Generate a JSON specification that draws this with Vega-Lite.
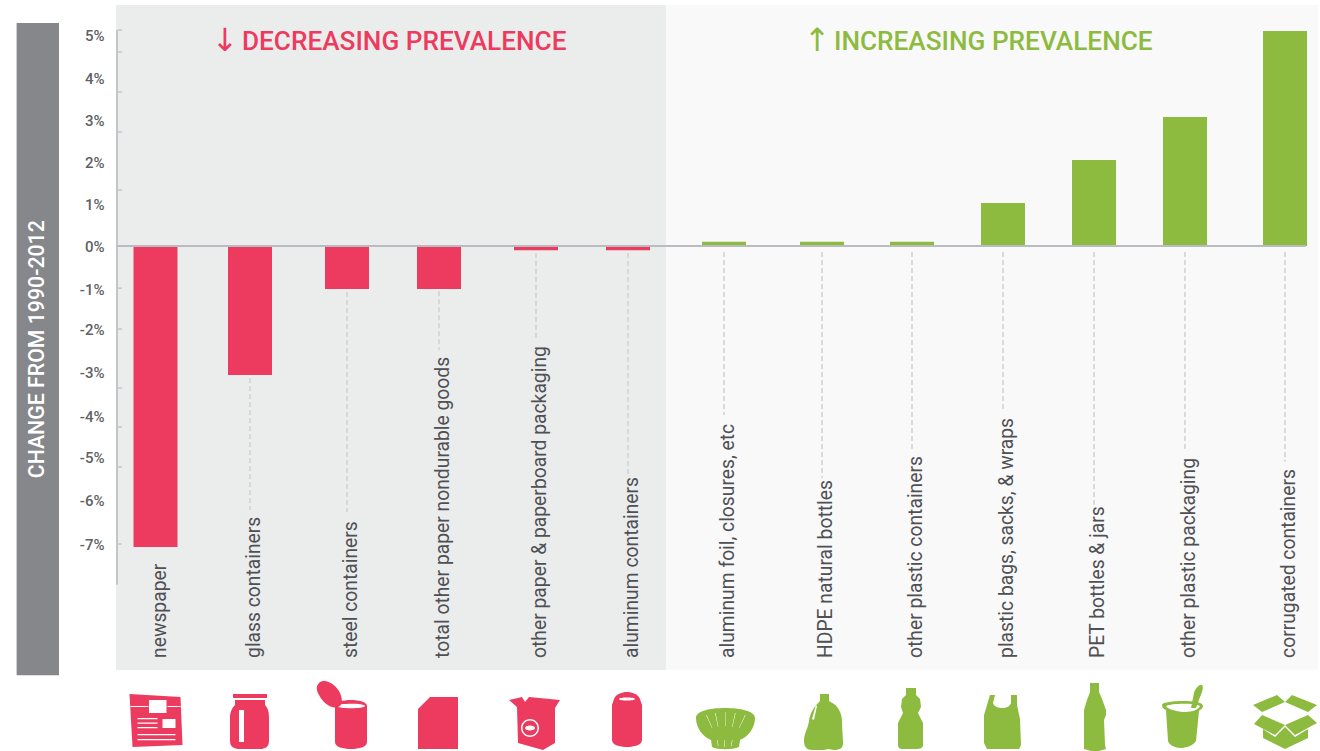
{
"$schema":"https://vega.github.io/schema/vega-lite/v6.json",
"width":1320,"height":751,"autosize":{"type":"none"},"padding":0,"background":"#ffffff",
"config":{"view":{"stroke":null}},
"datasets":{
"items":[
{"name":"newspaper","rank":1,"value":-7,"direction":"decreasing"},
{"name":"glass containers","rank":2,"value":-3,"direction":"decreasing","leadTop":-3.07,"leadEnd":-6.14},
{"name":"steel containers","rank":3,"value":-1,"direction":"decreasing","leadTop":-1.07,"leadEnd":-6.19},
{"name":"total other paper nondurable goods","rank":4,"value":-1,"direction":"decreasing","leadTop":-1.05,"leadEnd":-2.42},
{"name":"other paper & paperboard packaging","rank":5,"value":-0.1,"direction":"decreasing","leadTop":-0.16,"leadEnd":-2.14},
{"name":"aluminum containers","rank":6,"value":-0.1,"direction":"decreasing","leadTop":-0.16,"leadEnd":-5.33},
{"name":"aluminum foil, closures, etc","rank":7,"value":0.1,"direction":"increasing","leadTop":-0.14,"leadEnd":-3.93},
{"name":"HDPE natural bottles","rank":8,"value":0.1,"direction":"increasing","leadTop":-0.14,"leadEnd":-5.4},
{"name":"other plastic containers","rank":9,"value":0.1,"direction":"increasing","leadTop":-0.14,"leadEnd":-4.74},
{"name":"plastic bags, sacks, & wraps","rank":10,"value":1,"direction":"increasing","leadTop":-0.14,"leadEnd":-3.81},
{"name":"PET bottles & jars","rank":11,"value":2,"direction":"increasing","leadTop":-0.14,"leadEnd":-6.02},
{"name":"other plastic packaging","rank":12,"value":3,"direction":"increasing","leadTop":-0.14,"leadEnd":-4.74},
{"name":"corrugated containers","rank":13,"value":5,"direction":"increasing","leadTop":-0.14,"leadEnd":-5.02}
],
"ticks":[{"t":5.02},{"t":4.51},{"t":3.58},{"t":2.65},{"t":1.3},{"t":-0.98},{"t":-1.93},{"t":-3.3},{"t":-4.21},{"t":-5.14},{"t":-6.93}],
"one":[{"k":1}]
},
"layer":[
{"data":{"name":"one"},"mark":{"type":"rect","color":"#ebeded"},
 "encoding":{
  "x":{"datum":0,"type":"quantitative","axis":null,"scale":{"domain":[-2,-1,0,1,2,3,4,5,6,6.5,7,8,9,10,11,12,13,14],"range":[14,59,116,155.5,250,347,439,536,628,666,724,822,912,1003,1094,1185,1285,1320],"nice":false,"zero":false}},
  "x2":{"datum":6.5},
  "y":{"datum":5.605,"type":"quantitative","scale":{"domain":[-11.744,5.721],"range":[751,0],"nice":false,"zero":false}},
  "y2":{"datum":-9.86}}},
{"data":{"name":"one"},"mark":{"type":"rect","color":"#f9f9f9"},
 "encoding":{"x":{"datum":6.5,"type":"quantitative","axis":null},"x2":{"datum":14},"y":{"datum":5.605,"type":"quantitative"},"y2":{"datum":-9.86}}},
{"data":{"name":"one"},"mark":{"type":"rect","color":"#86878b"},
 "encoding":{"x":{"datum":-2,"type":"quantitative","axis":null},"x2":{"datum":-1},"y":{"datum":5.186,"type":"quantitative"},"y2":{"datum":-9.98}}},
{"data":{"name":"one"},"mark":{"type":"text","text":"CHANGE FROM 1990-2012","color":"#ffffff","font":"Roboto","fontSize":21.3,"fontWeight":500,"angle":270,"align":"center","baseline":"middle"},
 "encoding":{"x":{"datum":-1.5,"type":"quantitative","axis":null},"y":{"datum":-2.4,"type":"quantitative"}}},
{"data":{"name":"one"},"mark":{"type":"rule","color":"#c3c5c8","strokeWidth":2},
 "encoding":{"x":{"datum":0.025,"type":"quantitative","axis":null},"y":{"datum":5.02,"type":"quantitative"},"y2":{"datum":-7.88}}},
{"data":{"name":"ticks"},"mark":{"type":"rule","color":"#c3c5c8","strokeWidth":1.5},
 "encoding":{"x":{"datum":0.025,"type":"quantitative","axis":null},"x2":{"datum":0.15},"y":{"field":"t","type":"quantitative"}}},
{"data":{"name":"items"},"transform":[{"filter":"isValid(datum.leadTop)"}],"mark":{"type":"rule","color":"#cfd0d1","strokeWidth":1.5,"strokeDash":[5,3]},
 "encoding":{"x":{"field":"rank","type":"quantitative","axis":null},"y":{"field":"leadTop","type":"quantitative"},"y2":{"field":"leadEnd"}}},
{"data":{"name":"items"},"mark":{"type":"bar","width":44,"orient":"vertical"},
 "encoding":{
  "x":{"field":"rank","type":"quantitative","axis":null},
  "y":{"field":"value","type":"quantitative","axis":{"title":null,"orient":"left","offset":-116,"values":[5,4,3,2,1,0,-1,-2,-3,-4,-5,-6,-7],"labelExpr":"datum.value+'%'","domain":false,"ticks":false,"grid":false,"labelPadding":12,"labelFont":"Roboto","labelFontSize":15,"labelFontWeight":500,"labelColor":"#606164","labelOffset":{"condition":[{"test":"datum.value>=4","value":4},{"test":"datum.value==3","value":3},{"test":"datum.value==2","value":2},{"test":"datum.value==1","value":1},{"test":"datum.value==-2||datum.value==-3||datum.value==-7","value":-3},{"test":"datum.value==-4","value":-2},{"test":"datum.value==-5||datum.value==-6","value":-4}],"value":0}}},
  "y2":{"datum":0},
  "color":{"field":"direction","type":"nominal","scale":{"domain":["decreasing","increasing"],"range":["#ed3b5f","#8dbb3f"]},"legend":null}}},
{"data":{"name":"one"},"mark":{"type":"rule","color":"#b9bbc0","strokeWidth":2},
 "encoding":{"x":{"datum":0.025,"type":"quantitative","axis":null},"x2":{"datum":13.63},"y":{"datum":0,"type":"quantitative"}}},
{"data":{"name":"items"},"mark":{"type":"text","angle":270,"align":"left","baseline":"middle","font":"Roboto","fontSize":19.3,"color":"#4f5054","dy":4},
 "encoding":{"x":{"field":"rank","type":"quantitative","axis":null},"y":{"datum":-9.58,"type":"quantitative"},"text":{"field":"name"}}},
{"data":{"name":"one"},"mark":{"type":"text","text":"↓","color":"#ed3b5f","font":"DejaVu Sans","fontSize":32,"align":"center","baseline":"middle"},
 "encoding":{"x":{"datum":1.735,"type":"quantitative","axis":null},"y":{"datum":4.76,"type":"quantitative"}}},
{"data":{"name":"one"},"mark":{"type":"text","text":"DECREASING PREVALENCE","color":"#ed3b5f","font":"Roboto","fontWeight":500,"fontSize":26.2,"align":"left","baseline":"middle"},
 "encoding":{"x":{"datum":1.915,"type":"quantitative","axis":null},"y":{"datum":4.75,"type":"quantitative"}}},
{"data":{"name":"one"},"mark":{"type":"text","text":"↑","color":"#8dbb3f","font":"DejaVu Sans","fontSize":32,"align":"center","baseline":"middle"},
 "encoding":{"x":{"datum":7.95,"type":"quantitative","axis":null},"y":{"datum":4.76,"type":"quantitative"}}},
{"data":{"name":"one"},"mark":{"type":"text","text":"INCREASING PREVALENCE","color":"#8dbb3f","font":"Roboto","fontWeight":500,"fontSize":26.2,"align":"left","baseline":"middle"},
 "encoding":{"x":{"datum":8.133,"type":"quantitative","axis":null},"y":{"datum":4.75,"type":"quantitative"}}},
{"data":{"name":"items"},"mark":{"type":"point","filled":true,"opacity":1,"strokeWidth":0,"size":4},
 "encoding":{
  "x":{"field":"rank","type":"quantitative","axis":null},
  "y":{"datum":-10.907,"type":"quantitative"},
  "color":{"field":"direction","type":"nominal","legend":null},
  "shape":{"field":"name","type":"nominal","legend":null,"scale":{
   "domain":["newspaper","glass containers","steel containers","total other paper nondurable goods","other paper & paperboard packaging","aluminum containers","aluminum foil, closures, etc","HDPE natural bottles","other plastic containers","plastic bags, sacks, & wraps","PET bottles & jars","other plastic packaging","corrugated containers"],
   "range":[
"M-26,-21L25,-18L27,30L-23,32ZM-6.5,-15L-6.5,-2L11,-2L11,-15ZM7,4L7,13L20,13L20,4ZM-25,-9L-25,-8L-7,-8L-7,-9ZM12,-9L12,-8L25,-8L25,-9ZM-18,3L-18,4.2L2,4.2L2,3ZM-18,7.5L-18,8.7L2,8.7L2,7.5ZM-18,12L-18,13.2L2,13.2L2,12ZM-18,19L-18,20.3L20,20.3L20,19ZM-18,24L-18,25.3L20,25.3L20,24Z",
"M-17,-21L17,-21L17,-17L-17,-17ZM-15,-15L15,-15L15,-10C18,-7 19,-3 19,3L19,26C19,32 15,34 10,34L-10,34C-16,34 -20,32 -20,26L-20,3C-20,-3 -18,-7 -15,-10ZM-11,-5L-11,27L-6,27L-6,-5Z",
"M-12,-9C-12,-13 -4,-15 4,-15C12,-15 20,-13 20,-9L20,27C20,32 12,34 4,34C-4,34 -12,32 -12,27ZM-10,-9C-10,-6 18,-6 18,-9C18,-12 -10,-12 -10,-9ZM-28,-32C-23,-37 -13,-32 -8,-24C-4,-17 -4,-9 -9,-8C-16,-6 -24,-12 -28,-20C-31,-25 -31,-29 -28,-32Z",
"M-9,-18L19,-18L19,34L-21,34L-21,-6ZM-19,-7L-11,-7L-11,-15L-10,-15L-10,-5.5L-19,-5.5Z",
"M-27,-15L-14,-18L-11,-13L-7,-18L24,-15L19,-7L19,28L7,35L-18,28L-19,-8ZM-6,-9L6,-1L14,-7L14,-6L6,1L-7,-8ZM-15,13A9,9 0 1 0 3,13A9,9 0 1 0 -15,13ZM-13.5,13A7.5,7.5 0 1 1 1.5,13A7.5,7.5 0 1 1 -13.5,13ZM-11,13A5,2.5 0 1 0 -1,13A5,2.5 0 1 0 -11,13Z",
"M-14,-16C-12,-21 -6,-23 -1,-23C4,-23 10,-21 12,-16L14,-10L14,25C14,30 6,32 -1,32C-8,32 -16,30 -16,25L-16,-10ZM-9,-16C-9,-14 7,-14 7,-16C7,-18 -9,-18 -9,-16Z",
"M-28,3C-28,-4 -14,-7 1,-7C16,-7 31,-4 31,3C31,13 24,22 16,25L15,32C8,35 -6,35 -12,32L-13,25C-21,22 -28,13 -28,3ZM-18,0L-12,13L-11.6,13L-17.4,0ZM-9,-2L-6,12L-5.6,12L-8.4,-2ZM1,-3L1,11L1.4,11L1.4,-3ZM11,-2L8,12L8.4,12L11.6,-2ZM21,0L15,13L15.4,13L21.6,0ZM-12,17C-6,14 9,14 15,17L15,17.6C9,15.2 -6,15.2 -12,17.6ZM-7,25L-6,31L-5.5,31L-6.5,25ZM0,25L0,32L0.5,32L0.5,25ZM8,25L7,31L7.5,31L8.5,25Z",
"M-2,-21L7,-21L7,-14L12,-11C16,-8 20,-2 20,6C20,14 21,22 21,28C21,33 18,35 12,35L6,34L2,35L-10,35C-15,35 -18,32 -18,26C-18,18 -14,14 -13,6C-12,-2 -8,-8 -2,-14ZM-6,-10L-10,4L-8,5L-5,-9Z",
"M-6,-27L4,-27L4,-20L8,-16L9,-8L6,-2L11,8L11,30C11,33 8,34 4,34L-9,34C-12,34 -14,33 -14,30L-14,8L-9,-2L-11,-8L-10,-16L-6,-20Z",
"M-13,-20L-8,-20L-10,-12C-9,-8 -4,-7 -1,-7C4,-7 7,-9 8,-12L8,-20L14,-20L14,-10L17,4L18,30L16,34L-16,34L-19,28L-19,0Z",
"M-4,-32L5,-32L5,-23L8,-16L12,-5L12,0L10,5L11,30L12,34L5,36L-3,36L-10,34L-10,-5L-7,-15L-4,-23Z",
"M-23,-10C-23,-13 -10,-14 -2,-14C8,-14 18,-13 18,-9C18,-6 14,-5 14,-4L11,26C8,31 0,33 -4,33C-10,33 -16,30 -17,26L-19,-5C-21,-6 -23,-7 -23,-10ZM-19,-9C-17,-5 -4,-3 0,-3C8,-3 14,-6 15,-9C10,-12 -13,-12 -19,-9ZM6,-7L9,-22C11,-28 15,-31 17,-30C19,-28 17,-22 15,-18L11,-7Z",
"M-32,-10L-8,-20L0,-13L-23,-3ZM7,-20L32,-10L23,-3L0,-13ZM-23,0L0,10L-10,20L-31,9ZM23,0L32,8L10,20L0,10ZM-22,14L-10,22L0,12L10,22L23,14L23,23L0,34L-22,23Z"
]}}}}
]
}
